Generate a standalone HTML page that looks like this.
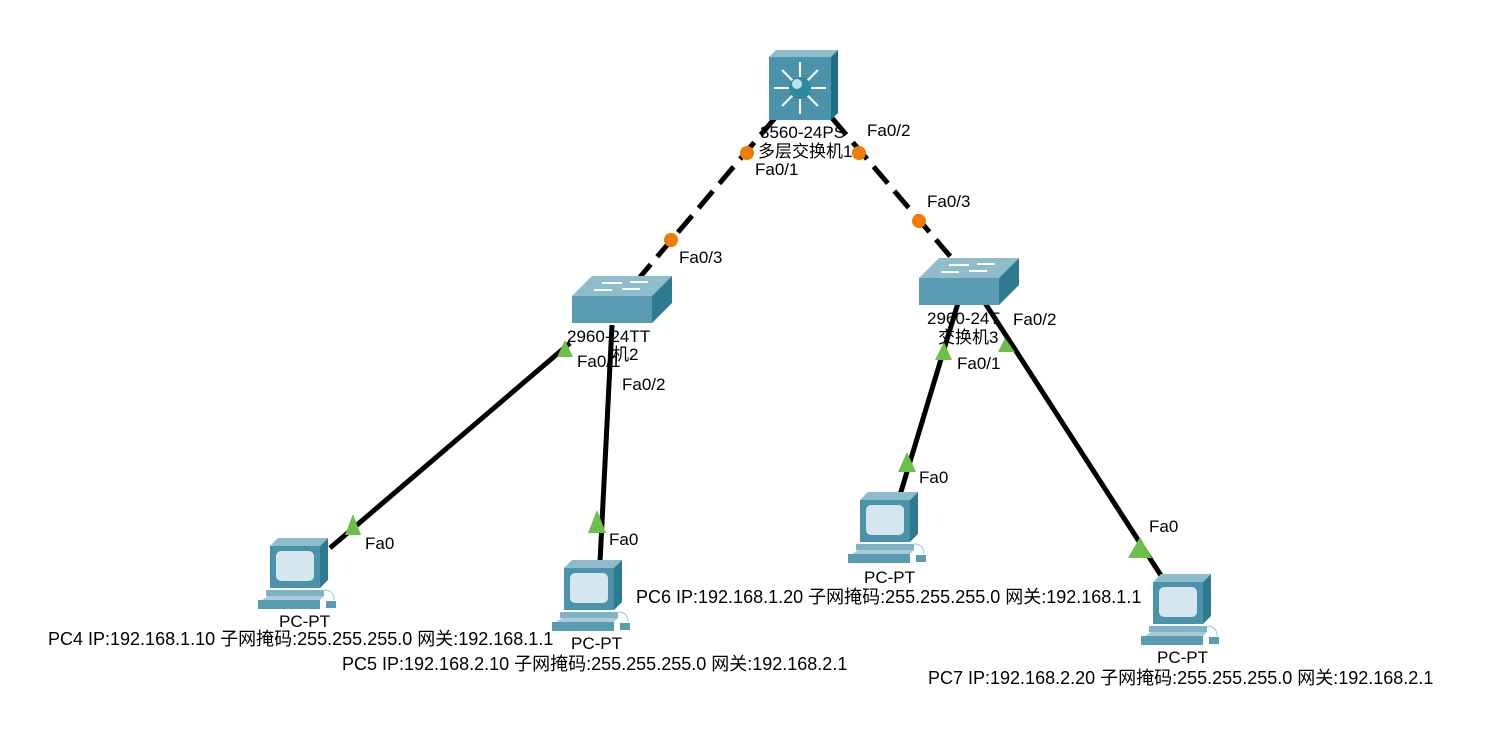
<!DOCTYPE html>
<html><head><meta charset="utf-8"><style>
body{margin:0;background:#fff}
svg text{font-family:"Liberation Sans","Noto Sans CJK SC",sans-serif;font-size:17px;fill:#000}
svg text.ip{font-size:18px}
</style></head><body>
<svg width="1490" height="749" viewBox="0 0 1490 749">
<defs>
<g id="sw">
<polygon points="0,20 20,0 100,0 80,20" fill="#8fbccb"/>
<rect x="0" y="20" width="80" height="27" fill="#5a9db2"/>
<polygon points="80,20 100,0 100,27 80,47" fill="#2e7a90"/>
<g stroke="#fff" stroke-width="2" fill="none">
<line x1="30" y1="7" x2="50" y2="7"/><line x1="58" y1="6" x2="76" y2="6"/>
<line x1="22" y1="14" x2="40" y2="14"/><line x1="50" y1="13" x2="68" y2="13"/>
</g>
</g>
<g id="pc">
<polygon points="12,8 20,0 70,0 62,8" fill="#8fbccb"/>
<rect x="12" y="8" width="50" height="42" fill="#4b93aa"/>
<polygon points="62,8 70,0 70,42 62,50" fill="#2e7a90"/>
<rect x="18" y="13" width="38" height="30" rx="5" fill="#d5e6ee"/>
<rect x="8" y="52" width="58" height="6" fill="#7fb2c3"/>
<polygon points="4,62 10,58 66,58 62,62" fill="#a9cbd7"/>
<rect x="0" y="62" width="62" height="9" fill="#5a9db2"/>
<rect x="68" y="63" width="10" height="7" fill="#5a9db2"/>
<path d="M66,52 q10,0 10,10" stroke="#9cc" fill="none"/>
</g>
</defs>
<g stroke="#000" stroke-width="5">
<line x1="775" y1="118" x2="640" y2="277" stroke-dasharray="22,10"/>
<line x1="832" y1="118" x2="955" y2="262" stroke-dasharray="22,10"/>
<line x1="570" y1="343" x2="330" y2="548"/>
<line x1="612" y1="325" x2="600" y2="562"/>
<line x1="958" y1="303" x2="900" y2="495"/>
<line x1="985" y1="303" x2="1162" y2="577"/>
</g>
<polygon points="769,57 776,50 838,50 831,57" fill="#8fbccb"/>
<rect x="769" y="57" width="62" height="63" fill="#4b93aa"/>
<polygon points="831,57 838,50 838,113 831,120" fill="#1f6f86"/>
<g stroke="#fff" stroke-width="2">
<line x1="800" y1="88" x2="800" y2="62"/><line x1="800" y1="88" x2="800" y2="114"/>
<line x1="800" y1="88" x2="774" y2="88"/><line x1="800" y1="88" x2="826" y2="88"/>
<line x1="800" y1="88" x2="782" y2="70"/><line x1="800" y1="88" x2="818" y2="70"/>
<line x1="800" y1="88" x2="782" y2="106"/><line x1="800" y1="88" x2="818" y2="106"/>
</g>
<circle cx="800" cy="88" r="11" fill="#2b8aa0"/><circle cx="797" cy="84" r="5" fill="#bfe0ea"/>
<use href="#sw" x="572" y="276"/>
<use href="#sw" x="919" y="258"/>
<use href="#pc" x="258" y="538"/>
<use href="#pc" x="552" y="560"/>
<use href="#pc" x="848" y="492"/>
<use href="#pc" x="1141" y="574"/>
<g fill="#f07c00">
<circle cx="747" cy="153" r="7"/><circle cx="671" cy="240" r="7"/>
<circle cx="859" cy="153" r="7"/><circle cx="919" cy="221" r="7"/>
</g>
<g fill="#6cc04a">
<polygon points="557,357 565,340 573,357"/><polygon points="345,535 353,514 361,535"/>
<polygon points="588,533 597,510 606,533"/><polygon points="935,360 944,342 952,360"/>
<polygon points="898,472 907,452 916,472"/><polygon points="998,352 1005,338 1015,352"/>
<polygon points="1128,558 1140,537 1152,558"/>
</g>
<text x="760" y="138">3560-24PS</text><text x="758" y="157">多层交换机1</text>
<text x="867" y="136">Fa0/2</text><text x="755" y="175">Fa0/1</text>
<text x="927" y="207">Fa0/3</text><text x="679" y="263">Fa0/3</text>
<text x="567" y="342">2960-24TT</text><text x="612" y="360">机2</text>
<text x="577" y="367">Fa0/1</text><text x="622" y="390">Fa0/2</text>
<text x="927" y="324">2960-24T</text><text x="938" y="343">交换机3</text>
<text x="1013" y="325">Fa0/2</text><text x="957" y="369">Fa0/1</text>
<text x="919" y="483">Fa0</text><text x="1149" y="532">Fa0</text>
<text x="365" y="549">Fa0</text><text x="609" y="545">Fa0</text>
<text x="279" y="627">PC-PT</text>
<text class="ip" x="48" y="645">PC4 IP:192.168.1.10 子网掩码:255.255.255.0 网关:192.168.1.1</text>
<text x="571" y="649">PC-PT</text>
<text class="ip" x="342" y="670">PC5 IP:192.168.2.10 子网掩码:255.255.255.0 网关:192.168.2.1</text>
<text x="864" y="583">PC-PT</text>
<text class="ip" x="636" y="603">PC6 IP:192.168.1.20 子网掩码:255.255.255.0 网关:192.168.1.1</text>
<text x="1157" y="663">PC-PT</text>
<text class="ip" x="928" y="684">PC7 IP:192.168.2.20 子网掩码:255.255.255.0 网关:192.168.2.1</text>
</svg>
</body></html>
